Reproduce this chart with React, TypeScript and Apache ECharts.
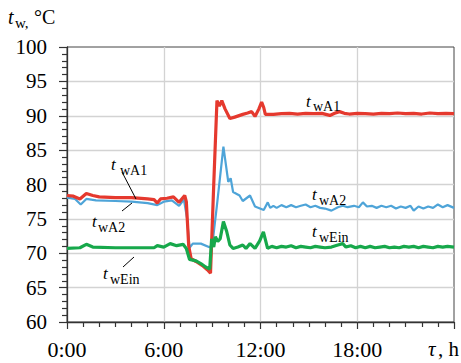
import React, { useEffect, useRef } from 'react';
import * as echarts from 'echarts';

const FONT = 'Liberation Serif';

const xTicks = [0, 6, 12, 18, 24];
const xTickLabels = ['0:00', '6:00', '12:00', '18:00', ''];
const yRange = [60, 100];

// [time in hours, temperature °C]
const tWA1: [number, number][] = [
  [0, 78.4], [0.4, 78.3], [0.8, 77.9], [1.2, 78.7], [1.6, 78.4], [2.0, 78.2], [3.0, 78.1], [4.0, 78.1],
  [5.0, 77.9], [5.4, 77.8], [5.6, 77.3], [5.8, 77.9], [6.2, 78.0], [6.6, 78.2], [6.95, 77.4], [7.3, 78.4],
  [7.4, 77.5], [7.55, 71.0], [7.7, 69.2], [8.0, 68.8], [8.4, 68.2], [8.7, 67.6], [8.9, 67.1], [9.1, 80.0],
  [9.3, 92.2], [9.45, 91.4], [9.6, 92.2], [9.8, 91.0], [10.1, 89.6], [10.4, 89.8], [10.9, 90.2], [11.2, 90.4],
  [11.45, 90.6], [11.66, 89.9], [11.9, 91.0], [12.07, 92.0], [12.2, 91.2], [12.3, 90.2], [12.8, 90.2],
  [13.3, 90.3], [13.8, 90.35], [14.3, 90.25], [14.8, 90.35], [15.3, 90.3], [15.8, 90.35], [16.3, 90.05],
  [16.6, 90.35], [16.9, 90.6], [17.2, 90.35], [17.5, 90.25], [18.0, 90.35], [18.5, 90.3], [19.0, 90.25],
  [19.5, 90.35], [20.0, 90.3], [20.5, 90.4], [21.0, 90.3], [21.5, 90.35], [22.0, 90.25], [22.5, 90.4],
  [23.0, 90.3], [23.5, 90.35], [24, 90.3],
];

const tWA2: [number, number][] = [
  [0, 78.1], [0.5, 77.9], [0.85, 77.1], [1.2, 77.9], [1.8, 77.7], [3, 77.6], [4, 77.5], [5, 77.3],
  [5.6, 77.0], [6.0, 77.5], [6.5, 77.7], [6.95, 76.9], [7.25, 77.8], [7.45, 75.0], [7.6, 70.8], [7.8, 71.4],
  [8.3, 71.4], [8.8, 70.9], [9.0, 71.0], [9.3, 77.0], [9.7, 85.5], [10.0, 80.4], [10.15, 80.9], [10.3, 78.9],
  [10.7, 78.4], [10.9, 77.6], [11.35, 78.4], [11.66, 76.8], [12.2, 76.3], [12.45, 77.4], [12.6, 76.6],
  [12.8, 76.9], [13.0, 76.6], [13.3, 77.0], [13.6, 76.7], [13.9, 77.0], [14.2, 76.7], [14.5, 76.9],
  [14.8, 77.1], [15.1, 76.7], [15.4, 76.9], [15.7, 76.6], [16.0, 76.5], [16.4, 76.2], [16.8, 76.7],
  [17.1, 76.9], [17.4, 76.7], [17.8, 76.9], [18.1, 76.7], [18.35, 77.4], [18.6, 76.8], [18.9, 76.9],
  [19.2, 76.6], [19.5, 76.9], [19.8, 76.7], [20.1, 76.9], [20.4, 76.5], [20.7, 76.8], [21.0, 76.6],
  [21.3, 76.9], [21.5, 76.2], [21.8, 76.8], [22.1, 76.5], [22.4, 76.8], [22.7, 76.6], [23.0, 77.1],
  [23.3, 76.7], [23.6, 77.0], [24, 76.6],
];

const tWEin: [number, number][] = [
  [0, 70.7], [0.8, 70.8], [1.2, 71.3], [1.6, 70.9], [3, 70.8], [5.4, 70.8], [5.6, 71.1], [6.0, 70.9],
  [6.4, 71.4], [6.8, 71.1], [7.2, 71.3], [7.4, 70.7], [7.6, 69.1], [8.0, 68.9], [8.3, 68.5], [8.6, 68.0],
  [8.85, 67.7], [8.97, 72.1], [9.1, 70.9], [9.2, 72.4], [9.35, 71.7], [9.5, 72.1], [9.7, 74.6], [9.9, 73.2],
  [10.1, 71.2], [10.3, 70.7], [10.6, 70.9], [10.9, 71.2], [11.1, 70.7], [11.35, 71.4], [11.66, 70.7],
  [11.95, 71.8], [12.18, 73.1], [12.44, 70.7], [12.7, 71.0], [13.0, 70.8], [13.3, 71.0], [13.6, 70.9],
  [13.9, 71.1], [14.2, 70.8], [14.5, 71.0], [14.8, 70.9], [15.1, 70.8], [15.4, 71.0], [15.7, 70.9],
  [16.0, 70.8], [16.4, 70.9], [16.8, 71.2], [17.1, 71.4], [17.3, 70.9], [17.6, 71.1], [17.9, 70.8],
  [18.2, 71.0], [18.5, 70.8], [18.8, 71.0], [19.1, 70.8], [19.4, 70.9], [19.7, 71.0], [20.0, 70.8],
  [20.3, 70.9], [20.6, 70.8], [20.9, 71.0], [21.2, 70.9], [21.5, 71.0], [21.8, 70.8], [22.1, 71.0],
  [22.4, 70.9], [22.7, 70.8], [23.0, 71.0], [23.3, 70.9], [23.6, 71.0], [24, 70.9],
];

function txt(x: number, baseline: number, text: string, size: number, italic = false, align = 'left') {
  return {
    type: 'text',
    x,
    y: baseline - 0.34 * size,
    z: 100,
    style: {
      text,
      fill: '#000',
      fontSize: size,
      fontFamily: FONT,
      fontStyle: italic ? 'italic' : 'normal',
      align,
      verticalAlign: 'middle',
    },
  };
}

function leader(x1: number, y1: number, x2: number, y2: number) {
  return {
    type: 'line',
    z: 100,
    shape: { x1, y1, x2, y2 },
    style: { stroke: '#000', lineWidth: 1 },
  };
}

export default function App() {
  const ref = useRef<HTMLDivElement>(null);
  useEffect(() => {
    const chart = echarts.init(ref.current!, null, { renderer: 'svg' });
    const option: any = {
      animation: false,
      backgroundColor: '#fff',
      textStyle: { fontFamily: FONT },
      grid: {
        left: 67, top: 47, right: 7, bottom: 41,
        show: true, borderColor: '#444', borderWidth: 1, backgroundColor: 'transparent',
      },
      xAxis: {
        type: 'value',
        min: xTicks[0],
        max: xTicks[xTicks.length - 1],
        interval: 6,
        axisLine: { show: true, lineStyle: { color: '#333', width: 1.3 } },
        axisTick: { show: true, length: 7, lineStyle: { color: '#333', width: 1.2 } },
        minorTick: { show: true, splitNumber: 6, length: 5, lineStyle: { color: '#333', width: 1.2 } },
        splitLine: { show: true, showMinLine: false, showMaxLine: false, lineStyle: { color: '#d3d3d3', width: 1.3 } },
        axisLabel: {
          margin: 16,
          color: '#000',
          fontSize: 22,
          fontFamily: FONT,
          formatter: (v: number) => xTickLabels[xTicks.indexOf(v)] ?? '',
        },
      },
      yAxis: {
        type: 'value',
        min: yRange[0],
        max: yRange[1],
        interval: 5,
        axisLine: { show: true, lineStyle: { color: '#333', width: 1.3 } },
        axisTick: { show: true, length: 8, lineStyle: { color: '#333', width: 1.2 } },
        minorTick: { show: true, splitNumber: 5, length: 5, lineStyle: { color: '#333', width: 1.2 } },
        splitLine: { show: true, showMinLine: false, showMaxLine: false, lineStyle: { color: '#d3d3d3', width: 1.3 } },
        axisLabel: { margin: 20, color: '#000', fontSize: 21, fontFamily: FONT },
      },
      series: [
        {
          name: 'tWA2', type: 'line', data: tWA2, showSymbol: false, z: 3,
          lineStyle: { color: '#4ea4d8', width: 2.2 },
        },
        {
          name: 'tWA1', type: 'line', data: tWA1, showSymbol: false, z: 4,
          lineStyle: { color: '#e5392e', width: 3.2 },
        },
        {
          name: 'tWEin', type: 'line', data: tWEin, showSymbol: false, z: 5,
          lineStyle: { color: '#17a84b', width: 3.2 },
        },
      ],
      graphic: [
        // y axis title
        txt(8, 24, 't', 20, true),
        txt(15, 28, 'w,', 15),
        txt(34, 24, '°C', 20),
        // x axis title
        txt(428, 356, 'τ', 21, true),
        txt(438, 356, ', h', 21),
        // left annotations
        txt(111, 170, 't', 17, true),
        txt(120, 175, 'wA1', 14),
        leader(122, 172, 136, 199),
        txt(92, 227, 't', 17, true),
        txt(98, 232, 'wA2', 14),
        leader(122, 211, 132, 203),
        txt(103, 279, 't', 17, true),
        txt(110, 284, 'wEin', 14),
        leader(123, 267, 134, 257),
        // right annotations
        txt(306, 107, 't', 17, true),
        txt(313, 111, 'wA1', 14),
        txt(312, 200, 't', 17, true),
        txt(319, 205, 'wA2', 14),
        txt(312, 237, 't', 17, true),
        txt(319, 242, 'wEin', 14),
      ],
    };
    chart.setOption(option);
    return () => chart.dispose();
  }, []);
  return <div ref={ref} style={{ position: 'fixed', left: 0, top: 0, width: 461, height: 363 }} />;
}
